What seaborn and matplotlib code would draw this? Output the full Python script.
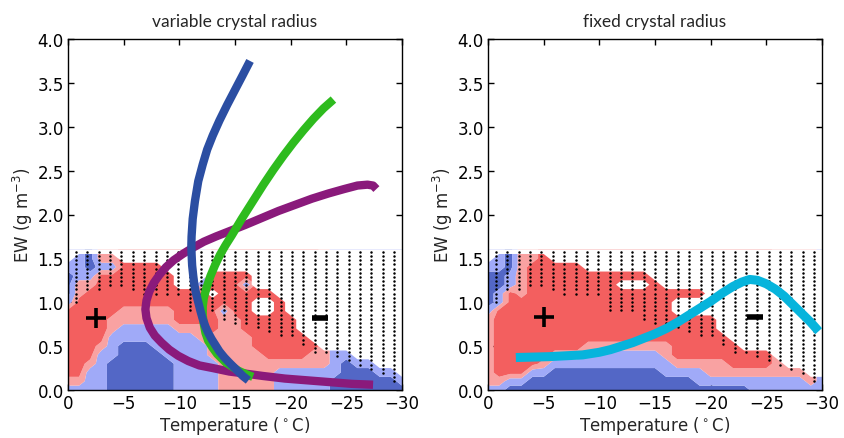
import numpy as np
import matplotlib
matplotlib.use("Agg")
import matplotlib.pyplot as plt
import seaborn as sns

# ---------------- data ----------------
T_grid = np.arange(0, -31, -1)                 # columns (deg C)
EW_grid = np.round(np.arange(0, 1.61, 0.1), 2)  # rows (g m-3)

# field codes per temperature column, from EW=0.0 (first char) to EW=1.6 (last char)
# B dark blue, b light blue, r light red, R red, w no shading
left_cols = [
    "brRRRRRRRRbBBBbww",  # 0
    "brRRRRRRRRRrrbbbw",  # -1
    "bbbrRRRRRRRRrbBBw",  # -2
    "bbbbbrRRRRRRRRbrw",  # -3
    "BBBBbbbrrRRRRRbrw",  # -4
    "BBBBBBbbrrRRRRRww",  # -5
    "BBBBBBbbrrRRRRRww",  # -6
    "BBBBBBbbrrRRRRRww",  # -7
    "BBBBBbbbrrRRRRRww",  # -8
    "BBBBbbbbrrRRRRwww",  # -9
    "bbbbbbbrRRRRwwwww",  # -10
    "bbbbbbbrRRRRwwwww",  # -11
    "bbbbbbrrRRRRbwwww",  # -12
    "bbbbrrrRRRRwRRwww",  # -13
    "rrrrrrrrrbRRRRwww",  # -14
    "rrrrrrrrrRRRRRwww",  # -15
    "rrrrrrrRRRRRbRwww",  # -16
    "rrrrrRRRRwwRwwwww",  # -17
    "rrrrRRRRRwwRwwwww",  # -18
    "bbbrRRRRRRRwwwwww",  # -19
    "bbbrRRRRRwwwwwwww",  # -20
    "bbbrRRRwwwwwwwwww",  # -21
    "bbbrrRwwwwwwwwwww",  # -22
    "bbbrrwwwwwwwwwwww",  # -23
    "BBbbbwwwwwwwwwwww",  # -24
    "BBBBbwwwwwwwwwwww",  # -25
    "BBBbwwwwwwwwwwwww",  # -26
    "BBBbwwwwwwwwwwwww",  # -27
    "BBbwwwwwwwwwwwwww",  # -28
    "BBbwwwwwwwwwwwwww",  # -29
    "Bbwwwwwwwwwwwwwww",  # -30
]
right_cols = [
    "brrrrrrrrbBBBBbww",  # 0
    "brRRRRRRRRbbBBbbw",  # -1
    "BbRRRRRRRRRRbbBBw",  # -2
    "BbRRRRRRRRRrrrrrw",  # -3
    "BBbRRRRRRRRRRRRrw",  # -4
    "BBbrRRRRRRRRRRRRw",  # -5
    "BBBbrRRRRRRRRRRww",  # -6
    "BBBbrRRRRRRRRRRww",  # -7
    "BBBbrRRRRRRRRRRww",  # -8
    "BBBbbrRRRRRRRRwww",  # -9
    "BBBbbrRRRRRRRRwww",  # -10
    "BBBbbrRRRRRRRRwww",  # -11
    "BBBbbrRRRRRRwRwww",  # -12
    "BBBbbrRRRRRRwRwww",  # -13
    "BBBbbrRRRRRRwRwww",  # -14
    "BBBbbrRRRRRRRwwww",  # -15
    "BBbbrrRRRRRRwwwww",  # -16
    "BBbrRRRRRwwRwwwww",  # -17
    "BBbrRRRRRwwRwwwww",  # -18
    "BbbrRRRRRwwRwwwww",  # -19
    "BbrrRRRRRwwwwwwww",  # -20
    "BbrrRRRwwwwwwwwww",  # -21
    "BbrRRRwwwwwwwwwww",  # -22
    "BbrRRwwwwwwwwwwww",  # -23
    "bbrRRwwwwwwwwwwww",  # -24
    "bbrRRwwwwwwwwwwww",  # -25
    "bbrrwwwwwwwwwwwww",  # -26
    "bbrwwwwwwwwwwwwww",  # -27
    "bbrwwwwwwwwwwwwww",  # -28
    "brwwwwwwwwwwwwwww",  # -29
    "bbwwwwwwwwwwwwwww",  # -30
]

# stippling: dot columns and the lowest EW reached by dots in each column
dot_T = np.linspace(-0.72, -29.3, 29)
dot_EW = 1.574 - 0.0476 * np.arange(32)
stip_lower = [0.97, 1.14, 1.14, 1.19, 1.19, 1.14, 1.09, 1.09, 1.09, 1.07,
              0.91, 0.88, 0.88, 0.82, 0.77, 0.77, 0.71, 0.65, 0.59, 0.59,
              0.52, 0.43, 0.43, 0.39, 0.33, 0.28, 0.22, 0.16, 0.10]

# curves, left panel
blue_T = [-16.2, -15.7, -15.3, -14.9, -14.5, -14.05, -13.6, -13.25, -12.9, -12.6,
          -12.35, -12.1, -11.9, -11.7, -11.5, -11.35, -11.25, -11.15, -11.1, -11.08,
          -11.1, -11.2, -11.4, -11.7, -12.1, -12.5, -13.0, -13.6, -14.3, -15.0,
          -15.7, -16.35]
blue_EW = [0.11, 0.16, 0.21, 0.26, 0.31, 0.37, 0.44, 0.51, 0.58, 0.65,
           0.72, 0.81, 0.90, 1.00, 1.10, 1.20, 1.30, 1.42, 1.55, 1.65,
           1.75, 1.95, 2.15, 2.38, 2.57, 2.74, 2.90, 3.07, 3.25, 3.42,
           3.59, 3.75]
green_T = [-16.6, -16.0, -15.3, -14.7, -14.2, -13.8, -13.4, -13.0, -12.6, -12.35,
           -12.2, -12.1, -12.1, -12.2, -12.45, -12.8, -13.2, -13.65, -14.15, -14.7,
           -15.6, -16.65, -17.55, -18.45, -19.35, -20.25, -21.15, -22.04, -22.95,
           -23.84]
green_EW = [0.15, 0.18, 0.22, 0.27, 0.31, 0.36, 0.41, 0.48, 0.56, 0.65,
            0.75, 0.85, 0.95, 1.05, 1.17, 1.30, 1.42, 1.54, 1.65, 1.76,
            1.95, 2.16, 2.34, 2.51, 2.67, 2.82, 2.96, 3.09, 3.21, 3.31]
purple_T = [-27.4, -25.5, -23.5, -21.5, -19.5, -17.5, -15.75, -14.5, -13.0, -11.8,
            -10.8, -9.9, -9.1, -8.4, -7.8, -7.35, -7.05, -6.95, -7.05, -7.3,
            -7.7, -8.2, -8.8, -9.5, -10.3, -11.2, -12.2, -13.3, -14.5, -15.9,
            -17.4, -18.9, -20.4, -21.9, -23.4, -24.8, -26.0, -26.9, -27.4, -27.7]
purple_EW = [0.06, 0.07, 0.09, 0.11, 0.13, 0.16, 0.19, 0.21, 0.25, 0.28,
             0.33, 0.39, 0.46, 0.54, 0.62, 0.71, 0.82, 0.92, 1.02, 1.12,
             1.22, 1.31, 1.40, 1.48, 1.55, 1.62, 1.69, 1.75, 1.81, 1.88,
             1.96, 2.04, 2.11, 2.18, 2.24, 2.29, 2.33, 2.34, 2.33, 2.29]
# curve, right panel
cyan_T = [-2.5, -4.0, -5.5, -7.0, -8.5, -10.0, -11.0, -12.0, -13.0, -14.0,
          -15.0, -16.0, -17.0, -18.0, -19.0, -20.0, -21.0, -22.0, -22.8, -23.5,
          -24.2, -25.0, -25.8, -26.6, -27.4, -28.2, -29.0, -29.7]
cyan_EW = [0.37, 0.375, 0.38, 0.39, 0.40, 0.43, 0.46, 0.50, 0.54, 0.59,
           0.64, 0.70, 0.77, 0.85, 0.93, 1.01, 1.10, 1.18, 1.23, 1.26,
           1.25, 1.21, 1.15, 1.07, 0.97, 0.87, 0.77, 0.67]

plus_pos = {"left": (-2.5, 0.82), "right": (-5.0, 0.83)}
minus_pos = {"left": (-22.6, 0.82), "right": (-24.0, 0.83)}

titles = ["variable crystal radius", "fixed crystal radius"]
x_ticks = [0, -5, -10, -15, -20, -25, -30]
y_ticks = [0.0, 0.5, 1.0, 1.5, 2.0, 2.5, 3.0, 3.5, 4.0]

# ---------------- style ----------------
sns.set_style("white")
plt.rcParams['font.family'] = ['DejaVu Sans']
plt.rcParams['mathtext.fontset'] = 'dejavusans'
plt.rcParams['axes.unicode_minus'] = True

C_B, C_b, C_r, C_R = '#5367C6', '#A0AAF8', '#F9A2A2', '#F35F5F'
code_val = {'B': -2.0, 'b': -1.0, 'r': 1.0, 'R': 2.0}


def build_field(cols):
    nr, nc = len(cols[0]), len(cols)
    Z = np.zeros((nr, nc))
    W = np.zeros((nr, nc))
    for i, col in enumerate(cols):
        for j, ch in enumerate(col):
            if ch == 'w':
                W[j, i] = 1.0
                k = j - 1
                while k >= 0 and col[k] == 'w':
                    k -= 1
                if k < 0:
                    k = j + 1
                    while k < nr and col[k] == 'w':
                        k += 1
                Z[j, i] = code_val[col[k]] if k < nr else 2.0
            else:
                Z[j, i] = code_val[ch]
    return Z, W


fig = plt.figure(figsize=(8.44, 4.39), dpi=100)
ax_l = fig.add_axes([68 / 844, 1 - 391 / 439, 334 / 844, 351 / 439])
ax_r = fig.add_axes([488 / 844, 1 - 391 / 439, 334 / 844, 351 / 439])

for ax, cols, key, title in [(ax_l, left_cols, "left", titles[0]),
                             (ax_r, right_cols, "right", titles[1])]:
    Z, W = build_field(cols)
    ax.contourf(T_grid, EW_grid, Z, levels=[-2.5, -1.5, 0, 1.5, 2.5],
                colors=[C_B, C_b, C_r, C_R], antialiased=True)
    ax.contourf(T_grid, EW_grid, W, levels=[0.5, 1.5], colors=['white'],
                antialiased=True)
    # stippling
    xs, ys = [], []
    for t, lo in zip(dot_T, stip_lower):
        for e in dot_EW:
            if e >= lo - 0.01:
                xs.append(t)
                ys.append(e)
    ax.scatter(xs, ys, s=3.2, c='black', marker='o', linewidths=0, zorder=3)

    if key == "left":
        sns.lineplot(x=purple_T, y=purple_EW, sort=False, estimator=None,
                     color='#8A1A7B', linewidth=6, ax=ax, zorder=4,
                     solid_capstyle='butt', solid_joinstyle='round')
        sns.lineplot(x=green_T, y=green_EW, sort=False, estimator=None,
                     color='#2EBB1E', linewidth=6, ax=ax, zorder=5,
                     solid_capstyle='butt', solid_joinstyle='round')
        sns.lineplot(x=blue_T, y=blue_EW, sort=False, estimator=None,
                     color='#2B4EA2', linewidth=6, ax=ax, zorder=6,
                     solid_capstyle='butt', solid_joinstyle='round')
    else:
        sns.lineplot(x=cyan_T, y=cyan_EW, sort=False, estimator=None,
                     color='#06B4DC', linewidth=6.5, ax=ax, zorder=4,
                     solid_capstyle='butt', solid_joinstyle='round')

    px, py = plus_pos[key]
    ax.plot([px], [py], marker='+', ms=15, mew=2.6, color='black', zorder=7)
    mx, my = minus_pos[key]
    ax.plot([mx], [my], marker='_', ms=11, mew=4, color='black', zorder=7)

    ax.set_xlim(0, -30)
    ax.set_ylim(0, 4)
    ax.set_xticks(x_ticks)
    ax.set_yticks(y_ticks)
    ax.set_yticklabels([f"{v:.1f}" for v in y_ticks])
    ax.tick_params(direction='in', top=True, right=True, bottom=True, left=True,
                   length=4, width=1, labelsize=12, color='black',
                   labelcolor='black', pad=3)
    for sp in ax.spines.values():
        sp.set_color('black')
        sp.set_linewidth(1)
    ax.set_title(title, fontsize=12.5, pad=9, family=['Lato', 'DejaVu Sans'])
    ax.set_xlabel(r"Temperature ($^\circ$C)", fontsize=12, labelpad=1)
    ax.set_ylabel(r"EW (g m$^{-3}$)", fontsize=12, labelpad=2)
    ax.grid(False)

fig.savefig("out.png", dpi=100)
